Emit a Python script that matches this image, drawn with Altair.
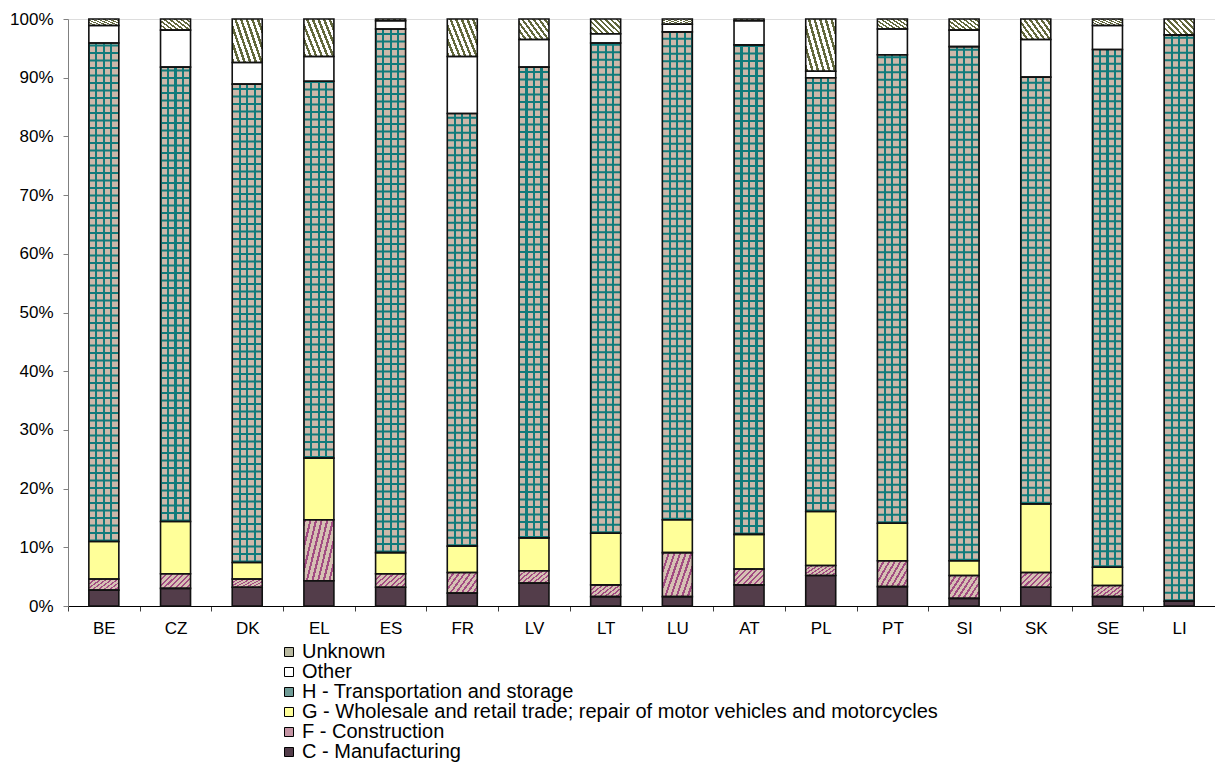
import altair as alt
import pandas as pd

# Share of road freight accidents by sector of the employer, per country (%)
countries = ["BE", "CZ", "DK", "EL", "ES", "FR", "LV", "LT",
             "LU", "AT", "PL", "PT", "SI", "SK", "SE", "LI"]
manufacturing = [2.7, 3.0, 3.2, 4.3, 3.2, 2.2, 3.9, 1.6, 1.6, 3.6, 5.2, 3.3, 1.3, 3.2, 1.6, 0.8]
construction = [1.9, 2.5, 1.4, 10.4, 2.3, 3.5, 2.1, 2.0, 7.5, 2.7, 1.7, 4.4, 3.9, 2.5, 1.9, 0.0]
trade = [6.4, 8.9, 2.8, 10.5, 3.6, 4.5, 5.6, 8.8, 5.6, 5.9, 9.2, 6.4, 2.5, 11.7, 3.1, 0.0]
transport = [84.9, 77.4, 81.5, 64.2, 89.2, 73.7, 80.2, 83.5, 83.1, 83.4, 73.9, 79.8, 87.6, 72.7, 88.2, 96.5]
other = [3.0, 6.3, 3.7, 4.2, 1.4, 9.7, 4.7, 1.6, 1.3, 4.1, 1.1, 4.4, 2.8, 6.4, 4.1, 0.0]
unknown = [1.1, 1.9, 7.4, 6.4, 0.3, 6.4, 3.5, 2.5, 0.9, 0.3, 8.9, 1.7, 1.9, 3.5, 1.1, 2.7]

sectors = [
    "C - Manufacturing",
    "F - Construction",
    "G - Wholesale and retail trade; repair of motor vehicles and motorcycles",
    "H - Transportation and storage",
    "Other",
    "Unknown",
]
series = [manufacturing, construction, trade, transport, other, unknown]

rows = []
for order, (sector, values) in enumerate(zip(sectors, series)):
    for country, v in zip(countries, values):
        rows.append({"country": country, "sector": sector, "value": v, "order": order})
df = pd.DataFrame(rows)

# legend lists the top of the stack first
legend_order = sectors[::-1]
legend_colors = ["#b9b9a0", "#ffffff", "#6f9b96", "#ffff99", "#c494a4", "#533d4a"]

TAN = "#cdb8aa"
TEAL = "#117b7b"
BAR_W = 30


def stop_list(pairs):
    return [alt.GradientStop(color=c, offset=o) for o, c in pairs]


def hatch(bg, fg, n, frac):
    pairs = []
    for k in range(n):
        a = k / n
        b = a + frac / n
        pairs += [(a, fg), (b, fg), (b, bg), ((k + 1) / n, bg)]
    return pairs


# vertical grid lines of the transport pattern
vlines = []
edges = [0.0, 0.25, 0.5, 0.75, 1.0]
half = 0.035
pos = 0.0
for e in edges:
    lo = max(0.0, e - half)
    hi = min(1.0, e + half)
    if lo > pos:
        vlines += [(pos, TAN), (lo, TAN)]
    vlines += [(lo, TEAL), (hi, TEAL)]
    pos = hi

grid_fill = alt.LinearGradient(gradient="linear", stops=stop_list(vlines),
                               x1=0, y1=0, x2=1, y2=0)
constr_fill = alt.LinearGradient(gradient="linear",
                                 stops=stop_list(hatch("#d6c0b3", "#a24c82", 8, 0.38)),
                                 x1=0, y1=0, x2=1.2, y2=0.6)
unknown_fill = alt.LinearGradient(gradient="linear",
                                  stops=stop_list(hatch("#ffffff", "#62683c", 8, 0.45)),
                                  x1=0, y1=1, x2=1.2, y2=0.4)

base = alt.Chart(df).transform_stack(
    stack="value", groupby=["country"], as_=["y0", "y1"],
    sort=[alt.SortField("order", order="ascending")], offset="normalize",
)

x_enc = alt.X(
    "country:N", sort=countries,
    scale=alt.Scale(paddingInner=0, paddingOuter=0),
    axis=alt.Axis(
        title=None, labelAngle=0, tickBand="extent", tickSize=5,
        tickColor="#404040", domainColor="#000000", labelPadding=9,
        labelFont="Liberation Sans", labelFontSize=17, labelColor="#000000",
        grid=False,
    ),
)
y_enc = alt.Y(
    "y0:Q",
    scale=alt.Scale(domain=[0, 1], nice=False),
    axis=alt.Axis(
        title=None, values=[i / 10 for i in range(11)], format=".0%",
        tickSize=5, tickColor="#808080", domainColor="#808080", labelPadding=10,
        labelFont="Liberation Sans", labelFontSize=17, labelColor="#000000",
        grid=False,
    ),
)

solid = base.mark_bar(size=BAR_W, strokeWidth=0).encode(
    x=x_enc, y=y_enc, y2="y1:Q",
    color=alt.Color(
        "sector:N",
        scale=alt.Scale(domain=legend_order, range=legend_colors),
        legend=alt.Legend(
            title=None, orient="none", legendX=211, legendY=623,
            direction="vertical", symbolType="square", symbolSize=81,
            symbolStrokeColor="#000000", symbolStrokeWidth=1,
            labelFont="Liberation Sans", labelFontSize=20, labelColor="#000000",
            labelOffset=3, rowPadding=0, padding=0, labelLimit=1000,
        ),
    ),
)

transport_grid = base.transform_filter(
    alt.datum.sector == sectors[3]
).mark_bar(size=BAR_W, fill=grid_fill, strokeWidth=0).encode(
    x=x_enc, y=y_enc, y2="y1:Q")

transport_rows = base.transform_filter(
    alt.datum.sector == sectors[3]
).mark_rule(strokeWidth=BAR_W, strokeDash=[2, 5.5], color=TEAL, strokeCap="butt").encode(
    x=x_enc, y=y_enc, y2="y1:Q")

constr = base.transform_filter(
    alt.datum.sector == sectors[1]
).mark_bar(size=BAR_W, fill=constr_fill, strokeWidth=0).encode(
    x=x_enc, y=y_enc, y2="y1:Q")

unk = base.transform_filter(
    alt.datum.sector == sectors[5]
).mark_bar(size=BAR_W, fill=unknown_fill, strokeWidth=0).encode(
    x=x_enc, y=y_enc, y2="y1:Q")

outline = base.mark_bar(size=BAR_W, fill="transparent", stroke="#111111",
                        strokeWidth=1.6).encode(x=x_enc, y=y_enc, y2="y1:Q")

chart = alt.layer(solid, transport_grid, transport_rows, constr, unk, outline).properties(
    width=1147, height=587,
    autosize=alt.AutoSizeParams(type="none"),
    padding={"left": 68, "top": 19, "right": 0, "bottom": 157},
).configure_view(stroke=None).configure(background="#ffffff")

chart.save("out.html", embed_options={"renderer": "svg", "actions": False})
